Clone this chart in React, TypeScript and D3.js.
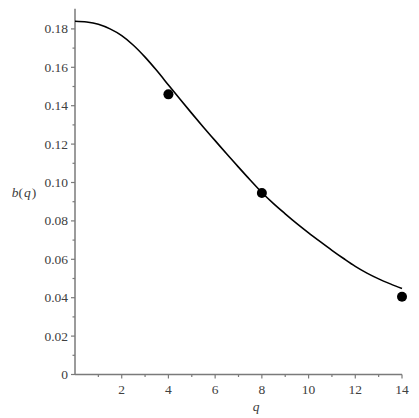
import React from "react";
import * as d3 from "d3";

const curveQ = [0, 0.5, 1, 1.5, 2, 2.5, 3, 3.5, 4, 4.5, 5, 5.5, 6, 6.5, 7, 7.5, 8, 8.5, 9, 9.5, 10, 10.5, 11, 11.5, 12, 12.5, 13, 13.5, 14];
const curveB = [0.184, 0.1836, 0.1824, 0.18, 0.1765, 0.1715, 0.1653, 0.1583, 0.1508, 0.1433, 0.136, 0.1288, 0.1218, 0.1148, 0.108, 0.1013, 0.0948, 0.089, 0.0837, 0.0786, 0.0738, 0.0692, 0.0647, 0.0604, 0.0563, 0.0528, 0.0498, 0.0472, 0.0448];
const pointQ = [4, 8, 14];
const pointB = [0.1459, 0.0945, 0.0405];
const xMajor = [2, 4, 6, 8, 10, 12, 14];
const xMinor = [1, 3, 5, 7, 9, 11, 13];
const yMajor = [0, 0.02, 0.04, 0.06, 0.08, 0.1, 0.12, 0.14, 0.16, 0.18];
const yMinor = [0.01, 0.03, 0.05, 0.07, 0.09, 0.11, 0.13, 0.15, 0.17];
const yLabels = ["0", "0.02", "0.04", "0.06", "0.08", "0.10", "0.12", "0.14", "0.16", "0.18"];

export default function App() {
  const x = d3.scaleLinear().domain([0, 14]).range([75, 402]);
  const y = d3.scaleLinear().domain([0, 0.18]).range([374.5, 28.9]);
  const line = d3
    .line<number>()
    .x((_, i) => x(curveQ[i]))
    .y((d) => y(d))
    .curve(d3.curveMonotoneX);
  const axisColor = "#7a7a7a";
  const textColor = "#404040";
  const textStyle: React.CSSProperties = { fontFamily: "'Liberation Serif', 'Times New Roman', serif", fontSize: "13.5px" };
  return (
    <svg
      width={419}
      height={418}
      style={{ position: "absolute", left: 0, top: 0, background: "#fff" }}
    >
      <rect x={0} y={0} width={419} height={418} fill="#fff" />
      <line x1={x(0)} x2={x(14)} y1={y(0)} y2={y(0)} stroke={axisColor} strokeWidth={1.5} />
      <line x1={x(0)} x2={x(0)} y1={y(0)} y2={y(0.1905)} stroke={axisColor} strokeWidth={1.5} />
      {xMajor.map((v) => (
        <g key={"xm" + v}>
          <line x1={x(v)} x2={x(v)} y1={y(0)} y2={y(0) + 4} stroke={axisColor} strokeWidth={1.2} />
          <text x={x(v)} y={y(0) + 19} textAnchor="middle" style={textStyle} fill={textColor}>
            {v}
          </text>
        </g>
      ))}
      {xMinor.map((v) => (
        <line key={"xn" + v} x1={x(v)} x2={x(v)} y1={y(0)} y2={y(0) + 2.5} stroke={axisColor} strokeWidth={1.2} />
      ))}
      {yMajor.map((v, i) => (
        <g key={"ym" + v}>
          <line x1={x(0) - 4} x2={x(0)} y1={y(v)} y2={y(v)} stroke={axisColor} strokeWidth={1.2} />
          <text x={x(0) - 7} y={y(v) + 4.5} textAnchor="end" style={textStyle} fill={textColor}>
            {yLabels[i]}
          </text>
        </g>
      ))}
      {yMinor.map((v) => (
        <line key={"yn" + v} x1={x(0) - 2.5} x2={x(0)} y1={y(v)} y2={y(v)} stroke={axisColor} strokeWidth={1.2} />
      ))}
      <text x={24} y={197} textAnchor="middle" style={textStyle} fill={textColor}>
        <tspan fontStyle="italic">b</tspan>
        <tspan>(</tspan>
        <tspan fontStyle="italic" dx={1}>q</tspan>
        <tspan dx={1}>)</tspan>
      </text>
      <text x={x(7.75)} y={411} textAnchor="middle" style={{ ...textStyle, fontStyle: "italic" }} fill={textColor}>
        q
      </text>
      <path d={line(curveB) || ""} fill="none" stroke="#000" strokeWidth={1.6} />
      {pointQ.map((q, i) => (
        <circle key={"p" + q} cx={x(q)} cy={y(pointB[i])} r={5} fill="#000" />
      ))}
    </svg>
  );
}
